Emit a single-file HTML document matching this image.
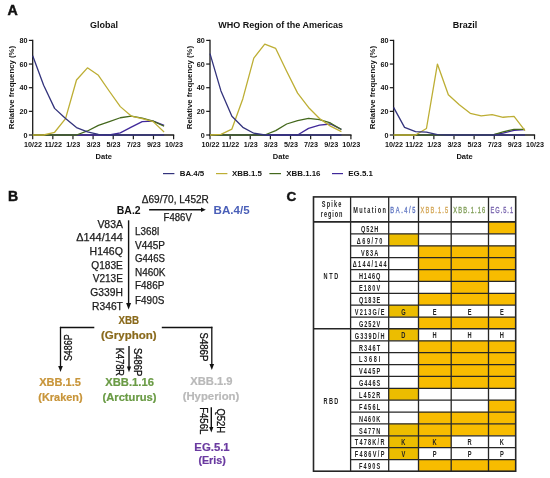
<!DOCTYPE html>
<html><head><meta charset="utf-8"><style>
html,body{margin:0;padding:0;background:#fff;}
svg{display:block;font-family:"Liberation Sans", sans-serif;will-change:transform;}
</style></head><body>
<svg width="550" height="478" viewBox="0 0 550 478">
<rect width="550" height="478" fill="#fff"/>
<text x="7.60" y="14.60" font-size="14.2" font-weight="bold" fill="#111" text-anchor="start" stroke="#111" stroke-width="0.45">A</text>
<text x="104.00" y="28.40" font-size="9" font-weight="bold" fill="#111" text-anchor="middle" >Global</text>
<text x="14.30" y="87.60" font-size="8.1" font-weight="bold" fill="#111" text-anchor="middle" textLength="83.20" lengthAdjust="spacingAndGlyphs" transform="rotate(-90 14.30 87.60)">Relative frequency (%)</text>
<line x1="32.70" y1="39.80" x2="32.70" y2="135.60" stroke="#1a1a1a" stroke-width="1.3" />
<line x1="32.10" y1="135.00" x2="174.21" y2="135.00" stroke="#1a1a1a" stroke-width="1.4" />
<line x1="28.90" y1="135.00" x2="32.70" y2="135.00" stroke="#1a1a1a" stroke-width="1.2" />
<text x="27.50" y="137.60" font-size="7.2" font-weight="bold" fill="#111" text-anchor="end" >0</text>
<line x1="28.90" y1="111.35" x2="32.70" y2="111.35" stroke="#1a1a1a" stroke-width="1.2" />
<text x="27.50" y="113.95" font-size="7.2" font-weight="bold" fill="#111" text-anchor="end" >20</text>
<line x1="28.90" y1="87.70" x2="32.70" y2="87.70" stroke="#1a1a1a" stroke-width="1.2" />
<text x="27.50" y="90.30" font-size="7.2" font-weight="bold" fill="#111" text-anchor="end" >40</text>
<line x1="28.90" y1="64.05" x2="32.70" y2="64.05" stroke="#1a1a1a" stroke-width="1.2" />
<text x="27.50" y="66.65" font-size="7.2" font-weight="bold" fill="#111" text-anchor="end" >60</text>
<line x1="28.90" y1="40.40" x2="32.70" y2="40.40" stroke="#1a1a1a" stroke-width="1.2" />
<text x="27.50" y="43.00" font-size="7.2" font-weight="bold" fill="#111" text-anchor="end" >80</text>
<line x1="32.70" y1="135.00" x2="32.70" y2="139.30" stroke="#1a1a1a" stroke-width="1.2" />
<text x="33.10" y="147.30" font-size="7.2" font-weight="bold" fill="#111" text-anchor="middle" >10/22</text>
<line x1="52.83" y1="135.00" x2="52.83" y2="139.30" stroke="#1a1a1a" stroke-width="1.2" />
<text x="53.23" y="147.30" font-size="7.2" font-weight="bold" fill="#111" text-anchor="middle" >11/22</text>
<line x1="72.96" y1="135.00" x2="72.96" y2="139.30" stroke="#1a1a1a" stroke-width="1.2" />
<text x="73.36" y="147.30" font-size="7.2" font-weight="bold" fill="#111" text-anchor="middle" >1/23</text>
<line x1="93.09" y1="135.00" x2="93.09" y2="139.30" stroke="#1a1a1a" stroke-width="1.2" />
<text x="93.49" y="147.30" font-size="7.2" font-weight="bold" fill="#111" text-anchor="middle" >3/23</text>
<line x1="113.22" y1="135.00" x2="113.22" y2="139.30" stroke="#1a1a1a" stroke-width="1.2" />
<text x="113.62" y="147.30" font-size="7.2" font-weight="bold" fill="#111" text-anchor="middle" >5/23</text>
<line x1="133.35" y1="135.00" x2="133.35" y2="139.30" stroke="#1a1a1a" stroke-width="1.2" />
<text x="133.75" y="147.30" font-size="7.2" font-weight="bold" fill="#111" text-anchor="middle" >7/23</text>
<line x1="153.48" y1="135.00" x2="153.48" y2="139.30" stroke="#1a1a1a" stroke-width="1.2" />
<text x="153.88" y="147.30" font-size="7.2" font-weight="bold" fill="#111" text-anchor="middle" >9/23</text>
<line x1="173.61" y1="135.00" x2="173.61" y2="139.30" stroke="#1a1a1a" stroke-width="1.2" />
<text x="174.01" y="147.30" font-size="7.2" font-weight="bold" fill="#111" text-anchor="middle" >10/23</text>
<text x="103.70" y="159.20" font-size="7.5" font-weight="bold" fill="#111" text-anchor="middle" >Date</text>
<polyline points="32.70,135.00 43.65,135.00 54.60,135.00 65.55,135.00 76.50,135.00 87.45,135.00 98.40,135.00 109.35,135.00 120.30,132.87 131.25,127.20 142.20,121.64 153.15,121.16 164.10,125.30" fill="none" stroke="#40289a" stroke-width="1.3" stroke-linejoin="round"/>
<polyline points="32.70,135.00 43.65,135.00 54.60,135.00 65.55,135.00 76.50,135.00 87.45,130.98 98.40,125.30 109.35,121.64 120.30,117.74 131.25,116.08 142.20,118.21 153.15,121.16 164.10,126.25" fill="none" stroke="#44681d" stroke-width="1.3" stroke-linejoin="round"/>
<polyline points="32.70,135.00 43.65,135.00 54.60,132.28 65.55,118.68 76.50,80.01 87.45,67.83 98.40,75.28 109.35,91.25 120.30,106.62 131.25,116.08 142.20,118.68 153.15,121.64 164.10,131.93" fill="none" stroke="#bdae34" stroke-width="1.3" stroke-linejoin="round"/>
<polyline points="32.70,55.77 43.65,85.34 54.60,108.39 65.55,118.44 76.50,127.55 87.45,131.93 98.40,134.41 109.35,135.00 120.30,135.00 131.25,135.00 142.20,135.00 153.15,135.00 164.10,135.00" fill="none" stroke="#33337c" stroke-width="1.3" stroke-linejoin="round"/>
<text x="280.70" y="28.40" font-size="9" font-weight="bold" fill="#111" text-anchor="middle" >WHO Region of the Americas</text>
<text x="191.60" y="87.60" font-size="8.1" font-weight="bold" fill="#111" text-anchor="middle" textLength="83.20" lengthAdjust="spacingAndGlyphs" transform="rotate(-90 191.60 87.60)">Relative frequency (%)</text>
<line x1="210.00" y1="39.80" x2="210.00" y2="135.60" stroke="#1a1a1a" stroke-width="1.3" />
<line x1="209.40" y1="135.00" x2="351.51" y2="135.00" stroke="#1a1a1a" stroke-width="1.4" />
<line x1="206.20" y1="135.00" x2="210.00" y2="135.00" stroke="#1a1a1a" stroke-width="1.2" />
<text x="204.80" y="137.60" font-size="7.2" font-weight="bold" fill="#111" text-anchor="end" >0</text>
<line x1="206.20" y1="111.35" x2="210.00" y2="111.35" stroke="#1a1a1a" stroke-width="1.2" />
<text x="204.80" y="113.95" font-size="7.2" font-weight="bold" fill="#111" text-anchor="end" >20</text>
<line x1="206.20" y1="87.70" x2="210.00" y2="87.70" stroke="#1a1a1a" stroke-width="1.2" />
<text x="204.80" y="90.30" font-size="7.2" font-weight="bold" fill="#111" text-anchor="end" >40</text>
<line x1="206.20" y1="64.05" x2="210.00" y2="64.05" stroke="#1a1a1a" stroke-width="1.2" />
<text x="204.80" y="66.65" font-size="7.2" font-weight="bold" fill="#111" text-anchor="end" >60</text>
<line x1="206.20" y1="40.40" x2="210.00" y2="40.40" stroke="#1a1a1a" stroke-width="1.2" />
<text x="204.80" y="43.00" font-size="7.2" font-weight="bold" fill="#111" text-anchor="end" >80</text>
<line x1="210.00" y1="135.00" x2="210.00" y2="139.30" stroke="#1a1a1a" stroke-width="1.2" />
<text x="210.40" y="147.30" font-size="7.2" font-weight="bold" fill="#111" text-anchor="middle" >10/22</text>
<line x1="230.13" y1="135.00" x2="230.13" y2="139.30" stroke="#1a1a1a" stroke-width="1.2" />
<text x="230.53" y="147.30" font-size="7.2" font-weight="bold" fill="#111" text-anchor="middle" >11/22</text>
<line x1="250.26" y1="135.00" x2="250.26" y2="139.30" stroke="#1a1a1a" stroke-width="1.2" />
<text x="250.66" y="147.30" font-size="7.2" font-weight="bold" fill="#111" text-anchor="middle" >1/23</text>
<line x1="270.39" y1="135.00" x2="270.39" y2="139.30" stroke="#1a1a1a" stroke-width="1.2" />
<text x="270.79" y="147.30" font-size="7.2" font-weight="bold" fill="#111" text-anchor="middle" >3/23</text>
<line x1="290.52" y1="135.00" x2="290.52" y2="139.30" stroke="#1a1a1a" stroke-width="1.2" />
<text x="290.92" y="147.30" font-size="7.2" font-weight="bold" fill="#111" text-anchor="middle" >5/23</text>
<line x1="310.65" y1="135.00" x2="310.65" y2="139.30" stroke="#1a1a1a" stroke-width="1.2" />
<text x="311.05" y="147.30" font-size="7.2" font-weight="bold" fill="#111" text-anchor="middle" >7/23</text>
<line x1="330.78" y1="135.00" x2="330.78" y2="139.30" stroke="#1a1a1a" stroke-width="1.2" />
<text x="331.18" y="147.30" font-size="7.2" font-weight="bold" fill="#111" text-anchor="middle" >9/23</text>
<line x1="350.91" y1="135.00" x2="350.91" y2="139.30" stroke="#1a1a1a" stroke-width="1.2" />
<text x="351.31" y="147.30" font-size="7.2" font-weight="bold" fill="#111" text-anchor="middle" >10/23</text>
<text x="281.00" y="159.20" font-size="7.5" font-weight="bold" fill="#111" text-anchor="middle" >Date</text>
<polyline points="210.00,135.00 220.95,135.00 231.90,135.00 242.85,135.00 253.80,135.00 264.75,135.00 275.70,135.00 286.65,135.00 297.60,135.00 308.55,128.38 319.50,125.07 330.45,124.00 341.40,129.44" fill="none" stroke="#40289a" stroke-width="1.3" stroke-linejoin="round"/>
<polyline points="210.00,135.00 220.95,135.00 231.90,135.00 242.85,135.00 253.80,135.00 264.75,135.00 275.70,130.62 286.65,124.00 297.60,120.69 308.55,118.44 319.50,119.63 330.45,122.94 341.40,129.44" fill="none" stroke="#44681d" stroke-width="1.3" stroke-linejoin="round"/>
<polyline points="210.00,135.00 220.95,134.41 231.90,129.09 242.85,98.70 253.80,58.14 264.75,44.07 275.70,48.44 286.65,71.26 297.60,93.14 308.55,107.45 319.50,118.44 330.45,126.13 341.40,131.69" fill="none" stroke="#bdae34" stroke-width="1.3" stroke-linejoin="round"/>
<polyline points="210.00,53.64 220.95,90.89 231.90,116.32 242.85,127.31 253.80,133.23 264.75,135.00 275.70,135.00 286.65,135.00 297.60,135.00 308.55,135.00 319.50,135.00 330.45,135.00 341.40,135.00" fill="none" stroke="#33337c" stroke-width="1.3" stroke-linejoin="round"/>
<text x="465.00" y="28.40" font-size="9" font-weight="bold" fill="#111" text-anchor="middle" >Brazil</text>
<text x="375.20" y="87.60" font-size="8.1" font-weight="bold" fill="#111" text-anchor="middle" textLength="83.20" lengthAdjust="spacingAndGlyphs" transform="rotate(-90 375.20 87.60)">Relative frequency (%)</text>
<line x1="393.60" y1="39.80" x2="393.60" y2="135.60" stroke="#1a1a1a" stroke-width="1.3" />
<line x1="393.00" y1="135.00" x2="535.11" y2="135.00" stroke="#1a1a1a" stroke-width="1.4" />
<line x1="389.80" y1="135.00" x2="393.60" y2="135.00" stroke="#1a1a1a" stroke-width="1.2" />
<text x="388.40" y="137.60" font-size="7.2" font-weight="bold" fill="#111" text-anchor="end" >0</text>
<line x1="389.80" y1="111.35" x2="393.60" y2="111.35" stroke="#1a1a1a" stroke-width="1.2" />
<text x="388.40" y="113.95" font-size="7.2" font-weight="bold" fill="#111" text-anchor="end" >20</text>
<line x1="389.80" y1="87.70" x2="393.60" y2="87.70" stroke="#1a1a1a" stroke-width="1.2" />
<text x="388.40" y="90.30" font-size="7.2" font-weight="bold" fill="#111" text-anchor="end" >40</text>
<line x1="389.80" y1="64.05" x2="393.60" y2="64.05" stroke="#1a1a1a" stroke-width="1.2" />
<text x="388.40" y="66.65" font-size="7.2" font-weight="bold" fill="#111" text-anchor="end" >60</text>
<line x1="389.80" y1="40.40" x2="393.60" y2="40.40" stroke="#1a1a1a" stroke-width="1.2" />
<text x="388.40" y="43.00" font-size="7.2" font-weight="bold" fill="#111" text-anchor="end" >80</text>
<line x1="393.60" y1="135.00" x2="393.60" y2="139.30" stroke="#1a1a1a" stroke-width="1.2" />
<text x="394.00" y="147.30" font-size="7.2" font-weight="bold" fill="#111" text-anchor="middle" >10/22</text>
<line x1="413.73" y1="135.00" x2="413.73" y2="139.30" stroke="#1a1a1a" stroke-width="1.2" />
<text x="414.13" y="147.30" font-size="7.2" font-weight="bold" fill="#111" text-anchor="middle" >11/22</text>
<line x1="433.86" y1="135.00" x2="433.86" y2="139.30" stroke="#1a1a1a" stroke-width="1.2" />
<text x="434.26" y="147.30" font-size="7.2" font-weight="bold" fill="#111" text-anchor="middle" >1/23</text>
<line x1="453.99" y1="135.00" x2="453.99" y2="139.30" stroke="#1a1a1a" stroke-width="1.2" />
<text x="454.39" y="147.30" font-size="7.2" font-weight="bold" fill="#111" text-anchor="middle" >3/23</text>
<line x1="474.12" y1="135.00" x2="474.12" y2="139.30" stroke="#1a1a1a" stroke-width="1.2" />
<text x="474.52" y="147.30" font-size="7.2" font-weight="bold" fill="#111" text-anchor="middle" >5/23</text>
<line x1="494.25" y1="135.00" x2="494.25" y2="139.30" stroke="#1a1a1a" stroke-width="1.2" />
<text x="494.65" y="147.30" font-size="7.2" font-weight="bold" fill="#111" text-anchor="middle" >7/23</text>
<line x1="514.38" y1="135.00" x2="514.38" y2="139.30" stroke="#1a1a1a" stroke-width="1.2" />
<text x="514.78" y="147.30" font-size="7.2" font-weight="bold" fill="#111" text-anchor="middle" >9/23</text>
<line x1="534.51" y1="135.00" x2="534.51" y2="139.30" stroke="#1a1a1a" stroke-width="1.2" />
<text x="534.91" y="147.30" font-size="7.2" font-weight="bold" fill="#111" text-anchor="middle" >10/23</text>
<text x="464.60" y="159.20" font-size="7.5" font-weight="bold" fill="#111" text-anchor="middle" >Date</text>
<polyline points="393.60,135.00 404.55,135.00 415.50,135.00 426.45,135.00 437.40,135.00 448.35,135.00 459.30,135.00 470.25,135.00 481.20,135.00 492.15,135.00 503.10,133.23 514.05,130.27 525.00,129.68" fill="none" stroke="#40289a" stroke-width="1.3" stroke-linejoin="round"/>
<polyline points="393.60,135.00 404.55,135.00 415.50,135.00 426.45,135.00 437.40,135.00 448.35,135.00 459.30,135.00 470.25,135.00 481.20,135.00 492.15,135.00 503.10,131.81 514.05,129.32 525.00,129.32" fill="none" stroke="#44681d" stroke-width="1.3" stroke-linejoin="round"/>
<polyline points="393.60,135.00 404.55,135.00 415.50,135.00 426.45,128.50 437.40,64.05 448.35,94.80 459.30,104.85 470.25,113.36 481.20,115.84 492.15,114.66 503.10,117.26 514.05,116.32 525.00,130.62" fill="none" stroke="#bdae34" stroke-width="1.3" stroke-linejoin="round"/>
<polyline points="393.60,107.33 404.55,127.43 415.50,131.69 426.45,132.04 437.40,134.65 448.35,135.00 459.30,135.00 470.25,135.00 481.20,135.00 492.15,135.00 503.10,135.00 514.05,135.00 525.00,135.00" fill="none" stroke="#33337c" stroke-width="1.3" stroke-linejoin="round"/>
<line x1="163.00" y1="173.60" x2="174.40" y2="173.60" stroke="#33337c" stroke-width="1.2" />
<text x="179.70" y="175.90" font-size="7.9" font-weight="bold" fill="#111" text-anchor="start" >BA.4/5</text>
<line x1="216.00" y1="173.60" x2="227.40" y2="173.60" stroke="#bdae34" stroke-width="1.2" />
<text x="232.10" y="175.90" font-size="7.9" font-weight="bold" fill="#111" text-anchor="start" >XBB.1.5</text>
<line x1="269.40" y1="173.60" x2="281.00" y2="173.60" stroke="#44681d" stroke-width="1.2" />
<text x="286.30" y="175.90" font-size="7.9" font-weight="bold" fill="#111" text-anchor="start" >XBB.1.16</text>
<line x1="332.00" y1="173.60" x2="343.00" y2="173.60" stroke="#40289a" stroke-width="1.2" />
<text x="348.30" y="175.90" font-size="7.9" font-weight="bold" fill="#111" text-anchor="start" >EG.5.1</text>
<text x="8.00" y="200.70" font-size="14.0" font-weight="bold" fill="#111" text-anchor="start" stroke="#111" stroke-width="0.45">B</text>
<text x="116.80" y="214.00" font-size="10.6" font-weight="bold" fill="#111" text-anchor="start" textLength="23.80" lengthAdjust="spacingAndGlyphs" >BA.2</text>
<text x="141.80" y="203.20" font-size="10.5" font-weight="normal" fill="#1a1a1a" text-anchor="start" textLength="67.10" lengthAdjust="spacingAndGlyphs" stroke="#1a1a1a" stroke-width="0.25">&#916;69/70, L452R</text>
<line x1="149.10" y1="209.80" x2="202.00" y2="209.80" stroke="#111" stroke-width="1.4" />
<polygon points="201.0,207.6 205.8,209.8 201.0,212.0" fill="#111"/>
<text x="163.60" y="221.40" font-size="10.5" font-weight="normal" fill="#1a1a1a" text-anchor="start" textLength="28.20" lengthAdjust="spacingAndGlyphs" stroke="#1a1a1a" stroke-width="0.25">F486V</text>
<text x="213.60" y="213.80" font-size="10.6" font-weight="bold" fill="#4a5fb8" text-anchor="start" textLength="36.00" lengthAdjust="spacingAndGlyphs" >BA.4/5</text>
<line x1="128.60" y1="220.30" x2="128.60" y2="304.00" stroke="#111" stroke-width="1.4" />
<polygon points="126.1,303 128.6,309.5 131.1,303" fill="#111"/>
<text x="122.90" y="227.80" font-size="10.5" font-weight="normal" fill="#1a1a1a" text-anchor="end" textLength="25.50" lengthAdjust="spacingAndGlyphs" stroke="#1a1a1a" stroke-width="0.25">V83A</text>
<text x="122.90" y="241.30" font-size="10.5" font-weight="normal" fill="#1a1a1a" text-anchor="end" textLength="46.70" lengthAdjust="spacingAndGlyphs" stroke="#1a1a1a" stroke-width="0.25">&#916;144/144</text>
<text x="122.90" y="254.90" font-size="10.5" font-weight="normal" fill="#1a1a1a" text-anchor="end" textLength="33.30" lengthAdjust="spacingAndGlyphs" stroke="#1a1a1a" stroke-width="0.25">H146Q</text>
<text x="122.90" y="268.60" font-size="10.5" font-weight="normal" fill="#1a1a1a" text-anchor="end" textLength="31.60" lengthAdjust="spacingAndGlyphs" stroke="#1a1a1a" stroke-width="0.25">Q183E</text>
<text x="122.90" y="282.10" font-size="10.5" font-weight="normal" fill="#1a1a1a" text-anchor="end" textLength="30.20" lengthAdjust="spacingAndGlyphs" stroke="#1a1a1a" stroke-width="0.25">V213E</text>
<text x="122.90" y="295.80" font-size="10.5" font-weight="normal" fill="#1a1a1a" text-anchor="end" textLength="32.60" lengthAdjust="spacingAndGlyphs" stroke="#1a1a1a" stroke-width="0.25">G339H</text>
<text x="122.90" y="309.60" font-size="10.5" font-weight="normal" fill="#1a1a1a" text-anchor="end" textLength="30.90" lengthAdjust="spacingAndGlyphs" stroke="#1a1a1a" stroke-width="0.25">R346T</text>
<text x="135.00" y="235.10" font-size="10.5" font-weight="normal" fill="#1a1a1a" text-anchor="start" textLength="24.60" lengthAdjust="spacingAndGlyphs" stroke="#1a1a1a" stroke-width="0.25">L368I</text>
<text x="135.00" y="248.60" font-size="10.5" font-weight="normal" fill="#1a1a1a" text-anchor="start" textLength="30.00" lengthAdjust="spacingAndGlyphs" stroke="#1a1a1a" stroke-width="0.25">V445P</text>
<text x="135.00" y="262.10" font-size="10.5" font-weight="normal" fill="#1a1a1a" text-anchor="start" textLength="30.00" lengthAdjust="spacingAndGlyphs" stroke="#1a1a1a" stroke-width="0.25">G446S</text>
<text x="135.00" y="275.80" font-size="10.5" font-weight="normal" fill="#1a1a1a" text-anchor="start" textLength="30.50" lengthAdjust="spacingAndGlyphs" stroke="#1a1a1a" stroke-width="0.25">N460K</text>
<text x="135.00" y="289.30" font-size="10.5" font-weight="normal" fill="#1a1a1a" text-anchor="start" textLength="29.30" lengthAdjust="spacingAndGlyphs" stroke="#1a1a1a" stroke-width="0.25">F486P</text>
<text x="135.00" y="303.80" font-size="10.5" font-weight="normal" fill="#1a1a1a" text-anchor="start" textLength="29.30" lengthAdjust="spacingAndGlyphs" stroke="#1a1a1a" stroke-width="0.25">F490S</text>
<text x="128.80" y="323.90" font-size="10.9" font-weight="bold" fill="#8a6a1c" text-anchor="middle" textLength="20.60" lengthAdjust="spacingAndGlyphs" stroke="#8a6a1c" stroke-width="0.2">XBB</text>
<text x="128.80" y="338.50" font-size="10.9" font-weight="bold" fill="#8a6a1c" text-anchor="middle" textLength="55.50" lengthAdjust="spacingAndGlyphs" stroke="#8a6a1c" stroke-width="0.2">(Gryphon)</text>
<line x1="59.90" y1="327.50" x2="94.30" y2="327.50" stroke="#111" stroke-width="1.3" />
<line x1="60.50" y1="326.85" x2="60.50" y2="366.00" stroke="#111" stroke-width="1.3" />
<polygon points="58.2,366 60.5,372 62.8,366" fill="#111"/>
<line x1="161.80" y1="327.50" x2="212.40" y2="327.50" stroke="#111" stroke-width="1.3" />
<line x1="211.80" y1="326.85" x2="211.80" y2="364.00" stroke="#111" stroke-width="1.3" />
<polygon points="209.5,364 211.8,370 214.1,364" fill="#111"/>
<line x1="129.00" y1="345.90" x2="129.00" y2="367.00" stroke="#111" stroke-width="1.4" />
<polygon points="126.9,366.5 129,372.3 131.1,366.5" fill="#111"/>
<text x="68.00" y="351.43" font-size="10.5" font-weight="normal" fill="#111" text-anchor="middle" textLength="26.70" lengthAdjust="spacingAndGlyphs" stroke="#111" stroke-width="0.3" transform="rotate(-90 68.00 347.75)">S486P</text>
<text x="119.90" y="365.62" font-size="10.5" font-weight="normal" fill="#111" text-anchor="middle" textLength="28.10" lengthAdjust="spacingAndGlyphs" stroke="#111" stroke-width="0.3" transform="rotate(90 119.90 361.95)">K478R</text>
<text x="137.60" y="365.88" font-size="10.5" font-weight="normal" fill="#111" text-anchor="middle" textLength="28.40" lengthAdjust="spacingAndGlyphs" stroke="#111" stroke-width="0.3" transform="rotate(90 137.60 362.20)">S486P</text>
<text x="203.80" y="350.62" font-size="10.5" font-weight="normal" fill="#111" text-anchor="middle" textLength="28.90" lengthAdjust="spacingAndGlyphs" stroke="#111" stroke-width="0.3" transform="rotate(90 203.80 346.95)">S486P</text>
<text x="203.90" y="424.43" font-size="10.5" font-weight="normal" fill="#111" text-anchor="middle" textLength="27.10" lengthAdjust="spacingAndGlyphs" stroke="#111" stroke-width="0.3" transform="rotate(90 203.90 420.75)">F456L</text>
<text x="220.20" y="424.47" font-size="10.5" font-weight="normal" fill="#111" text-anchor="middle" textLength="24.80" lengthAdjust="spacingAndGlyphs" stroke="#111" stroke-width="0.3" transform="rotate(90 220.20 420.80)">Q52H</text>
<line x1="211.30" y1="407.20" x2="211.30" y2="428.00" stroke="#111" stroke-width="1.4" />
<polygon points="209.2,427 211.3,432.5 213.4,427" fill="#111"/>
<text x="60.10" y="385.80" font-size="10.9" font-weight="bold" fill="#c8953a" text-anchor="middle" textLength="41.70" lengthAdjust="spacingAndGlyphs" stroke="#c8953a" stroke-width="0.2">XBB.1.5</text>
<text x="60.50" y="400.50" font-size="10.9" font-weight="bold" fill="#c8953a" text-anchor="middle" textLength="44.30" lengthAdjust="spacingAndGlyphs" stroke="#c8953a" stroke-width="0.2">(Kraken)</text>
<text x="129.60" y="385.80" font-size="10.9" font-weight="bold" fill="#6a9b45" text-anchor="middle" textLength="48.60" lengthAdjust="spacingAndGlyphs" stroke="#6a9b45" stroke-width="0.2">XBB.1.16</text>
<text x="129.50" y="400.50" font-size="10.9" font-weight="bold" fill="#6a9b45" text-anchor="middle" textLength="54.00" lengthAdjust="spacingAndGlyphs" stroke="#6a9b45" stroke-width="0.2">(Arcturus)</text>
<text x="211.45" y="385.40" font-size="10.9" font-weight="bold" fill="#b9b9b9" text-anchor="middle" textLength="42.30" lengthAdjust="spacingAndGlyphs" stroke="#b9b9b9" stroke-width="0.2">XBB.1.9</text>
<text x="211.00" y="399.60" font-size="10.9" font-weight="bold" fill="#b9b9b9" text-anchor="middle" textLength="56.70" lengthAdjust="spacingAndGlyphs" stroke="#b9b9b9" stroke-width="0.2">(Hyperion)</text>
<text x="212.00" y="450.80" font-size="10.9" font-weight="bold" fill="#6a3aa0" text-anchor="middle" textLength="35.30" lengthAdjust="spacingAndGlyphs" stroke="#6a3aa0" stroke-width="0.2">EG.5.1</text>
<text x="212.10" y="464.00" font-size="10.9" font-weight="bold" fill="#6a3aa0" text-anchor="middle" textLength="27.40" lengthAdjust="spacingAndGlyphs" stroke="#6a3aa0" stroke-width="0.2">(Eris)</text>
<text x="286.50" y="200.80" font-size="13.5" font-weight="bold" fill="#111" text-anchor="start" stroke="#111" stroke-width="0.45">C</text>
<rect x="488.50" y="221.90" width="27.20" height="11.87" fill="#f8bc00"/>
<text transform="translate(369.60,231.80) scale(0.68,1)" x="0" y="0" font-size="8.2" font-weight="bold" fill="#222" stroke="#222" stroke-width="0" text-anchor="middle" textLength="25.29" lengthAdjust="spacing">Q52H</text>
<rect x="388.70" y="233.77" width="29.80" height="11.87" fill="#ecbd00"/>
<text transform="translate(369.60,243.67) scale(0.68,1)" x="0" y="0" font-size="8.2" font-weight="bold" fill="#222" stroke="#222" stroke-width="0" text-anchor="middle" textLength="37.50" lengthAdjust="spacing">&#916;69/70</text>
<rect x="418.50" y="245.64" width="32.70" height="11.87" fill="#f8bc00"/>
<rect x="451.20" y="245.64" width="37.30" height="11.87" fill="#f8bc00"/>
<rect x="488.50" y="245.64" width="27.20" height="11.87" fill="#f8bc00"/>
<text transform="translate(369.60,255.54) scale(0.68,1)" x="0" y="0" font-size="8.2" font-weight="bold" fill="#222" stroke="#222" stroke-width="0" text-anchor="middle" textLength="25.29" lengthAdjust="spacing">V83A</text>
<rect x="418.50" y="257.51" width="32.70" height="11.87" fill="#f8bc00"/>
<rect x="451.20" y="257.51" width="37.30" height="11.87" fill="#f8bc00"/>
<rect x="488.50" y="257.51" width="27.20" height="11.87" fill="#f8bc00"/>
<text transform="translate(369.60,267.41) scale(0.68,1)" x="0" y="0" font-size="8.2" font-weight="bold" fill="#222" stroke="#222" stroke-width="0" text-anchor="middle" textLength="49.71" lengthAdjust="spacing">&#916;144/144</text>
<rect x="418.50" y="269.39" width="32.70" height="11.87" fill="#f8bc00"/>
<rect x="451.20" y="269.39" width="37.30" height="11.87" fill="#f8bc00"/>
<rect x="488.50" y="269.39" width="27.20" height="11.87" fill="#f8bc00"/>
<text transform="translate(369.60,279.29) scale(0.68,1)" x="0" y="0" font-size="8.2" font-weight="bold" fill="#222" stroke="#222" stroke-width="0" text-anchor="middle" textLength="31.40" lengthAdjust="spacing">H146Q</text>
<rect x="451.20" y="281.26" width="37.30" height="11.87" fill="#f8bc00"/>
<text transform="translate(369.60,291.16) scale(0.68,1)" x="0" y="0" font-size="8.2" font-weight="bold" fill="#222" stroke="#222" stroke-width="0" text-anchor="middle" textLength="31.40" lengthAdjust="spacing">E180V</text>
<rect x="418.50" y="293.13" width="32.70" height="11.87" fill="#f8bc00"/>
<rect x="451.20" y="293.13" width="37.30" height="11.87" fill="#f8bc00"/>
<rect x="488.50" y="293.13" width="27.20" height="11.87" fill="#f8bc00"/>
<text transform="translate(369.60,303.03) scale(0.68,1)" x="0" y="0" font-size="8.2" font-weight="bold" fill="#222" stroke="#222" stroke-width="0" text-anchor="middle" textLength="31.40" lengthAdjust="spacing">Q183E</text>
<rect x="388.70" y="305.00" width="29.80" height="11.87" fill="#ecbd00"/>
<text transform="translate(403.40,314.60) scale(0.68,1)" x="0" y="0" font-size="8.4" font-weight="bold" fill="#222" text-anchor="middle">G</text>
<text transform="translate(434.65,314.60) scale(0.68,1)" x="0" y="0" font-size="8.4" font-weight="bold" fill="#222" text-anchor="middle">E</text>
<text transform="translate(469.65,314.60) scale(0.68,1)" x="0" y="0" font-size="8.4" font-weight="bold" fill="#222" text-anchor="middle">E</text>
<text transform="translate(501.90,314.60) scale(0.68,1)" x="0" y="0" font-size="8.4" font-weight="bold" fill="#222" text-anchor="middle">E</text>
<text transform="translate(369.60,314.90) scale(0.68,1)" x="0" y="0" font-size="8.2" font-weight="bold" fill="#222" stroke="#222" stroke-width="0" text-anchor="middle" textLength="43.60" lengthAdjust="spacing">V213G/E</text>
<rect x="418.50" y="316.87" width="32.70" height="11.87" fill="#f8bc00"/>
<rect x="451.20" y="316.87" width="37.30" height="11.87" fill="#f8bc00"/>
<rect x="488.50" y="316.87" width="27.20" height="11.87" fill="#f8bc00"/>
<text transform="translate(369.60,326.77) scale(0.68,1)" x="0" y="0" font-size="8.2" font-weight="bold" fill="#222" stroke="#222" stroke-width="0" text-anchor="middle" textLength="31.40" lengthAdjust="spacing">G252V</text>
<rect x="388.70" y="328.74" width="29.80" height="11.87" fill="#ecbd00"/>
<text transform="translate(403.40,338.34) scale(0.68,1)" x="0" y="0" font-size="8.4" font-weight="bold" fill="#222" text-anchor="middle">D</text>
<text transform="translate(434.65,338.34) scale(0.68,1)" x="0" y="0" font-size="8.4" font-weight="bold" fill="#222" text-anchor="middle">H</text>
<text transform="translate(469.65,338.34) scale(0.68,1)" x="0" y="0" font-size="8.4" font-weight="bold" fill="#222" text-anchor="middle">H</text>
<text transform="translate(501.90,338.34) scale(0.68,1)" x="0" y="0" font-size="8.4" font-weight="bold" fill="#222" text-anchor="middle">H</text>
<text transform="translate(369.60,338.64) scale(0.68,1)" x="0" y="0" font-size="8.2" font-weight="bold" fill="#222" stroke="#222" stroke-width="0" text-anchor="middle" textLength="43.60" lengthAdjust="spacing">G339D/H</text>
<rect x="418.50" y="340.61" width="32.70" height="11.87" fill="#f8bc00"/>
<rect x="451.20" y="340.61" width="37.30" height="11.87" fill="#f8bc00"/>
<rect x="488.50" y="340.61" width="27.20" height="11.87" fill="#f8bc00"/>
<text transform="translate(369.60,350.51) scale(0.68,1)" x="0" y="0" font-size="8.2" font-weight="bold" fill="#222" stroke="#222" stroke-width="0" text-anchor="middle" textLength="31.40" lengthAdjust="spacing">R346T</text>
<rect x="418.50" y="352.49" width="32.70" height="11.87" fill="#f8bc00"/>
<rect x="451.20" y="352.49" width="37.30" height="11.87" fill="#f8bc00"/>
<rect x="488.50" y="352.49" width="27.20" height="11.87" fill="#f8bc00"/>
<text transform="translate(369.60,362.39) scale(0.68,1)" x="0" y="0" font-size="8.2" font-weight="bold" fill="#222" stroke="#222" stroke-width="0" text-anchor="middle" textLength="31.40" lengthAdjust="spacing">L368I</text>
<rect x="418.50" y="364.36" width="32.70" height="11.87" fill="#f8bc00"/>
<rect x="451.20" y="364.36" width="37.30" height="11.87" fill="#f8bc00"/>
<rect x="488.50" y="364.36" width="27.20" height="11.87" fill="#f8bc00"/>
<text transform="translate(369.60,374.26) scale(0.68,1)" x="0" y="0" font-size="8.2" font-weight="bold" fill="#222" stroke="#222" stroke-width="0" text-anchor="middle" textLength="31.40" lengthAdjust="spacing">V445P</text>
<rect x="418.50" y="376.23" width="32.70" height="11.87" fill="#f8bc00"/>
<rect x="451.20" y="376.23" width="37.30" height="11.87" fill="#f8bc00"/>
<rect x="488.50" y="376.23" width="27.20" height="11.87" fill="#f8bc00"/>
<text transform="translate(369.60,386.13) scale(0.68,1)" x="0" y="0" font-size="8.2" font-weight="bold" fill="#222" stroke="#222" stroke-width="0" text-anchor="middle" textLength="31.40" lengthAdjust="spacing">G446S</text>
<rect x="388.70" y="388.10" width="29.80" height="11.87" fill="#ecbd00"/>
<text transform="translate(369.60,398.00) scale(0.68,1)" x="0" y="0" font-size="8.2" font-weight="bold" fill="#222" stroke="#222" stroke-width="0" text-anchor="middle" textLength="31.40" lengthAdjust="spacing">L452R</text>
<rect x="488.50" y="399.97" width="27.20" height="11.87" fill="#f8bc00"/>
<text transform="translate(369.60,409.87) scale(0.68,1)" x="0" y="0" font-size="8.2" font-weight="bold" fill="#222" stroke="#222" stroke-width="0" text-anchor="middle" textLength="31.40" lengthAdjust="spacing">F456L</text>
<rect x="418.50" y="411.84" width="32.70" height="11.87" fill="#f8bc00"/>
<rect x="451.20" y="411.84" width="37.30" height="11.87" fill="#f8bc00"/>
<rect x="488.50" y="411.84" width="27.20" height="11.87" fill="#f8bc00"/>
<text transform="translate(369.60,421.74) scale(0.68,1)" x="0" y="0" font-size="8.2" font-weight="bold" fill="#222" stroke="#222" stroke-width="0" text-anchor="middle" textLength="31.40" lengthAdjust="spacing">N460K</text>
<rect x="388.70" y="423.71" width="29.80" height="11.87" fill="#ecbd00"/>
<rect x="418.50" y="423.71" width="32.70" height="11.87" fill="#f8bc00"/>
<rect x="451.20" y="423.71" width="37.30" height="11.87" fill="#f8bc00"/>
<rect x="488.50" y="423.71" width="27.20" height="11.87" fill="#f8bc00"/>
<text transform="translate(369.60,433.61) scale(0.68,1)" x="0" y="0" font-size="8.2" font-weight="bold" fill="#222" stroke="#222" stroke-width="0" text-anchor="middle" textLength="31.40" lengthAdjust="spacing">S477N</text>
<rect x="388.70" y="435.59" width="29.80" height="11.87" fill="#ecbd00"/>
<text transform="translate(403.40,445.19) scale(0.68,1)" x="0" y="0" font-size="8.4" font-weight="bold" fill="#222" text-anchor="middle">K</text>
<rect x="418.50" y="435.59" width="32.70" height="11.87" fill="#f8bc00"/>
<text transform="translate(434.65,445.19) scale(0.68,1)" x="0" y="0" font-size="8.4" font-weight="bold" fill="#222" text-anchor="middle">K</text>
<text transform="translate(469.65,445.19) scale(0.68,1)" x="0" y="0" font-size="8.4" font-weight="bold" fill="#222" text-anchor="middle">R</text>
<text transform="translate(501.90,445.19) scale(0.68,1)" x="0" y="0" font-size="8.4" font-weight="bold" fill="#222" text-anchor="middle">K</text>
<text transform="translate(369.60,445.49) scale(0.68,1)" x="0" y="0" font-size="8.2" font-weight="bold" fill="#222" stroke="#222" stroke-width="0" text-anchor="middle" textLength="43.60" lengthAdjust="spacing">T478K/R</text>
<rect x="388.70" y="447.46" width="29.80" height="11.87" fill="#ecbd00"/>
<text transform="translate(403.40,457.06) scale(0.68,1)" x="0" y="0" font-size="8.4" font-weight="bold" fill="#222" text-anchor="middle">V</text>
<text transform="translate(434.65,457.06) scale(0.68,1)" x="0" y="0" font-size="8.4" font-weight="bold" fill="#222" text-anchor="middle">P</text>
<text transform="translate(469.65,457.06) scale(0.68,1)" x="0" y="0" font-size="8.4" font-weight="bold" fill="#222" text-anchor="middle">P</text>
<text transform="translate(501.90,457.06) scale(0.68,1)" x="0" y="0" font-size="8.4" font-weight="bold" fill="#222" text-anchor="middle">P</text>
<text transform="translate(369.60,457.36) scale(0.68,1)" x="0" y="0" font-size="8.2" font-weight="bold" fill="#222" stroke="#222" stroke-width="0" text-anchor="middle" textLength="43.60" lengthAdjust="spacing">F486V/P</text>
<rect x="418.50" y="459.33" width="32.70" height="11.87" fill="#f8bc00"/>
<rect x="451.20" y="459.33" width="37.30" height="11.87" fill="#f8bc00"/>
<rect x="488.50" y="459.33" width="27.20" height="11.87" fill="#f8bc00"/>
<text transform="translate(369.60,469.23) scale(0.68,1)" x="0" y="0" font-size="8.2" font-weight="bold" fill="#222" stroke="#222" stroke-width="0" text-anchor="middle" textLength="31.40" lengthAdjust="spacing">F490S</text>
<line x1="350.60" y1="233.97" x2="515.70" y2="233.97" stroke="#262626" stroke-width="1.2" />
<line x1="350.60" y1="245.84" x2="515.70" y2="245.84" stroke="#262626" stroke-width="1.2" />
<line x1="350.60" y1="257.71" x2="515.70" y2="257.71" stroke="#262626" stroke-width="1.2" />
<line x1="350.60" y1="269.59" x2="515.70" y2="269.59" stroke="#262626" stroke-width="1.2" />
<line x1="350.60" y1="281.46" x2="515.70" y2="281.46" stroke="#262626" stroke-width="1.2" />
<line x1="350.60" y1="293.33" x2="515.70" y2="293.33" stroke="#262626" stroke-width="1.2" />
<line x1="350.60" y1="305.20" x2="515.70" y2="305.20" stroke="#262626" stroke-width="1.2" />
<line x1="350.60" y1="317.07" x2="515.70" y2="317.07" stroke="#262626" stroke-width="1.2" />
<line x1="350.60" y1="340.81" x2="515.70" y2="340.81" stroke="#262626" stroke-width="1.2" />
<line x1="350.60" y1="352.69" x2="515.70" y2="352.69" stroke="#262626" stroke-width="1.2" />
<line x1="350.60" y1="364.56" x2="515.70" y2="364.56" stroke="#262626" stroke-width="1.2" />
<line x1="350.60" y1="376.43" x2="515.70" y2="376.43" stroke="#262626" stroke-width="1.2" />
<line x1="350.60" y1="388.30" x2="515.70" y2="388.30" stroke="#262626" stroke-width="1.2" />
<line x1="350.60" y1="400.17" x2="515.70" y2="400.17" stroke="#262626" stroke-width="1.2" />
<line x1="350.60" y1="412.04" x2="515.70" y2="412.04" stroke="#262626" stroke-width="1.2" />
<line x1="350.60" y1="423.91" x2="515.70" y2="423.91" stroke="#262626" stroke-width="1.2" />
<line x1="350.60" y1="435.79" x2="515.70" y2="435.79" stroke="#262626" stroke-width="1.2" />
<line x1="350.60" y1="447.66" x2="515.70" y2="447.66" stroke="#262626" stroke-width="1.2" />
<line x1="350.60" y1="459.53" x2="515.70" y2="459.53" stroke="#262626" stroke-width="1.2" />
<line x1="313.50" y1="328.74" x2="515.70" y2="328.74" stroke="#262626" stroke-width="1.6" />
<line x1="313.50" y1="221.90" x2="515.70" y2="221.90" stroke="#262626" stroke-width="1.6" />
<line x1="350.60" y1="196.90" x2="350.60" y2="471.20" stroke="#262626" stroke-width="1.3" />
<line x1="388.70" y1="196.90" x2="388.70" y2="471.20" stroke="#262626" stroke-width="1.3" />
<line x1="418.50" y1="196.90" x2="418.50" y2="471.20" stroke="#262626" stroke-width="1.3" />
<line x1="451.20" y1="196.90" x2="451.20" y2="471.20" stroke="#262626" stroke-width="1.3" />
<line x1="488.50" y1="196.90" x2="488.50" y2="471.20" stroke="#262626" stroke-width="1.3" />
<rect x="313.50" y="196.90" width="202.20" height="274.30" fill="none" stroke="#262626" stroke-width="1.6"/>
<text transform="translate(331.60,206.80) scale(0.68,1)" x="0" y="0" font-size="8.2" font-weight="bold" fill="#222" stroke="#222" stroke-width="0" text-anchor="middle" textLength="28.82" lengthAdjust="spacing">Spike</text>
<text transform="translate(331.60,217.40) scale(0.68,1)" x="0" y="0" font-size="8.2" font-weight="bold" fill="#222" stroke="#222" stroke-width="0" text-anchor="middle" textLength="31.76" lengthAdjust="spacing">region</text>
<text transform="translate(369.60,213.20) scale(0.68,1)" x="0" y="0" font-size="8.2" font-weight="bold" fill="#222" stroke="#222" stroke-width="0" text-anchor="middle" textLength="47.94" lengthAdjust="spacing">Mutation</text>
<text transform="translate(331.00,279.00) scale(0.68,1)" x="0" y="0" font-size="8.2" font-weight="bold" fill="#222" stroke="#222" stroke-width="0" text-anchor="middle" textLength="21.76" lengthAdjust="spacing">NTD</text>
<text transform="translate(331.00,404.00) scale(0.68,1)" x="0" y="0" font-size="8.2" font-weight="bold" fill="#222" stroke="#222" stroke-width="0" text-anchor="middle" textLength="21.76" lengthAdjust="spacing">RBD</text>
<text transform="translate(402.90,213.20) scale(0.68,1)" x="0" y="0" font-size="8.4" font-weight="normal" fill="#5a72c0" stroke="#5a72c0" stroke-width="0.3" text-anchor="middle" textLength="37.06" lengthAdjust="spacing">BA.4/5</text>
<text transform="translate(434.40,213.20) scale(0.68,1)" x="0" y="0" font-size="8.4" font-weight="normal" fill="#d4a655" stroke="#d4a655" stroke-width="0.3" text-anchor="middle" textLength="40.59" lengthAdjust="spacing">XBB.1.5</text>
<text transform="translate(469.25,213.20) scale(0.68,1)" x="0" y="0" font-size="8.4" font-weight="normal" fill="#7e9c55" stroke="#7e9c55" stroke-width="0.3" text-anchor="middle" textLength="46.91" lengthAdjust="spacing">XBB.1.16</text>
<text transform="translate(501.75,213.20) scale(0.68,1)" x="0" y="0" font-size="8.4" font-weight="normal" fill="#7763ad" stroke="#7763ad" stroke-width="0.3" text-anchor="middle" textLength="33.38" lengthAdjust="spacing">EG.5.1</text>
</svg>
</body></html>
